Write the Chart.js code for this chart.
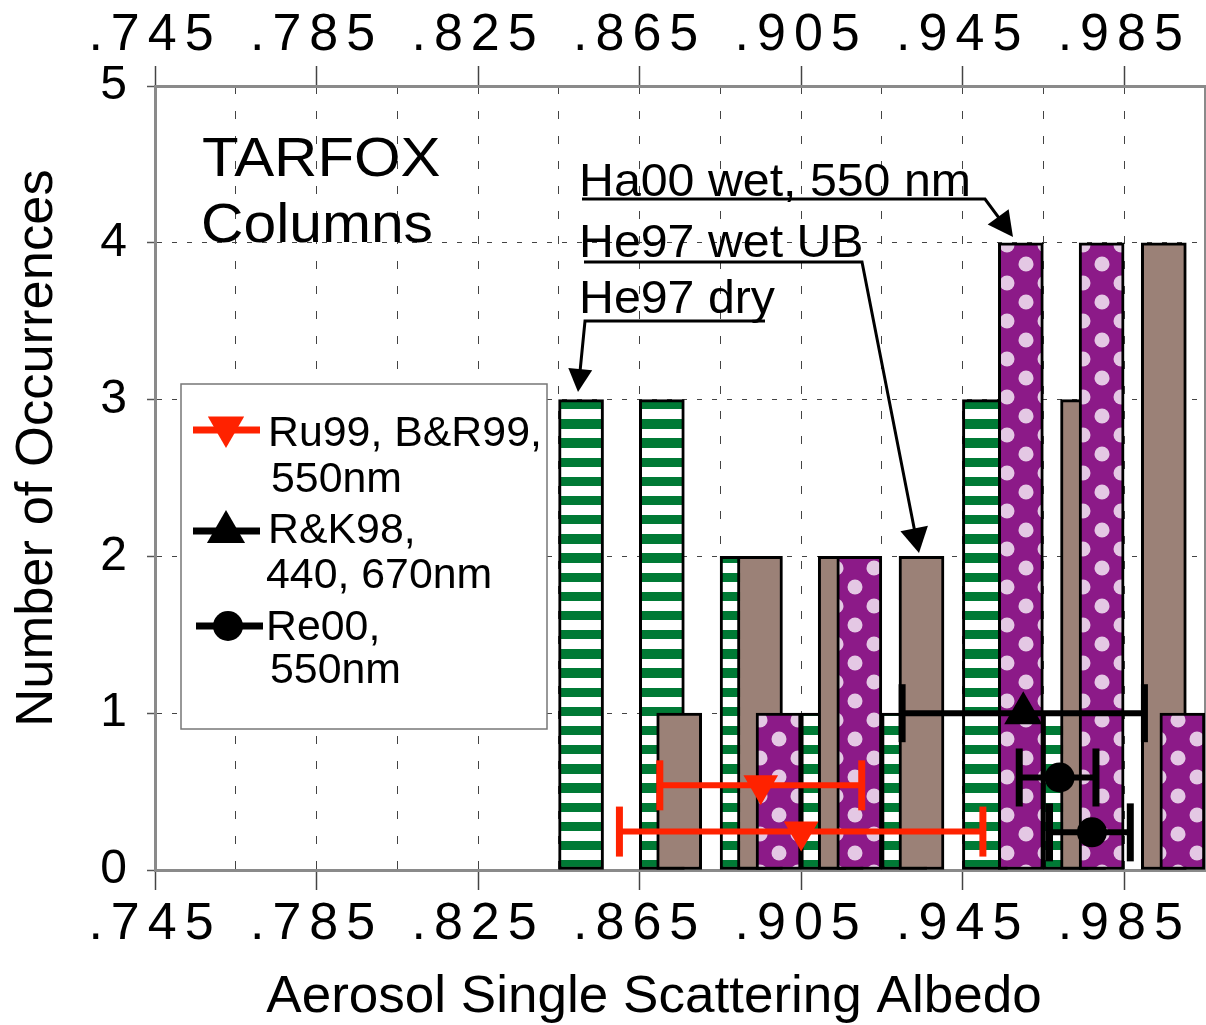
<!DOCTYPE html>
<html>
<head>
<meta charset="utf-8">
<script src="https://cdn.jsdelivr.net/npm/chart.js@4.4.1/dist/chart.umd.min.js"></script>
<style>
  html, body { margin: 0; padding: 0; background: #fff; }
  #wrap { width: 1206px; height: 1025px; }
</style>
</head>
<body>
<div id="wrap"><canvas id="albedoChart" width="1206" height="1025"></canvas></div>
<script>
// axis ticks
const xGridValues = [0.745, 0.765, 0.785, 0.805, 0.825, 0.845, 0.865, 0.885, 0.905, 0.925, 0.945, 0.965, 0.985, 1.005];
const xTickValues = [0.745, 0.785, 0.825, 0.865, 0.905, 0.945, 0.985];
const xTickLabels = [".745", ".785", ".825", ".865", ".905", ".945", ".985"];

// histogram columns (bin centre, count)
const dryX = [0.8505, 0.8705, 0.8905, 0.9105, 0.9305, 0.9505, 0.9705];
const dryY = [3, 3, 2, 1, 1, 3, 1];
const wetUbX = [0.8748, 0.8948, 0.9148, 0.9348, 0.9748, 0.9948];
const wetUbY = [1, 2, 2, 2, 3, 4];
const ha00X = [0.8994, 0.9194, 0.9594, 0.9794, 0.9994];
const ha00Y = [1, 2, 4, 4, 1];

// other retrievals with ranges
const ru99X = [0.895, 0.905];
const ru99Y = [0.54, 0.245];
const ru99Lo = [0.870, 0.860];
const ru99Hi = [0.920, 0.950];

const rk98X = [0.960];
const rk98Y = [1.0];
const rk98Lo = [0.930];
const rk98Hi = [0.990];

const re00X = [0.969, 0.977];
const re00Y = [0.59, 0.24];
const re00Lo = [0.959, 0.9665];
const re00Hi = [0.978, 0.9865];

const FONT = "'Liberation Sans', Arial, Helvetica, sans-serif";
const RED = "#ff2200";
Chart.defaults.font.family = FONT;

function makeStripes() {
  const c = document.createElement("canvas");
  c.width = 4;
  c.height = 115;
  const g = c.getContext("2d");
  g.fillStyle = "#ffffff";
  g.fillRect(0, 0, 4, 115);
  g.fillStyle = "#007a35";
  const step = 115 / 6;
  for (let y = (400 % 115) - 115; y < 115; y += step) {
    const a = Math.round(y), b = Math.round(y + 9.4);
    g.fillRect(0, a, 4, b - a);
  }
  return g.createPattern(c, "repeat");
}

function makeDots() {
  const c = document.createElement("canvas");
  c.width = 38;
  c.height = 38;
  const g = c.getContext("2d");
  g.fillStyle = "#8c1a88";
  g.fillRect(0, 0, 38, 38);
  g.fillStyle = "#e4c8e4";
  [[0, 36], [38, 36], [0, -2], [38, -2], [19, 17]].forEach(([x, y]) => {
    g.beginPath();
    g.arc(x, y, 7.5, 0, Math.PI * 2);
    g.fill();
  });
  return g.createPattern(c, "repeat");
}

function barSet(label, xs, ys, fill, order) {
  return {
    type: "bar",
    label: label,
    data: xs.map((x, i) => ({ x: x, y: ys[i] })),
    backgroundColor: fill,
    borderColor: "#000",
    borderWidth: 3,
    borderSkipped: false,
    barThickness: 45,
    grouped: false,
    order: order,
  };
}

// one line dataset per range, end caps drawn as rotated 'line' points
function rangeSets(lo, hi, ys, color, cap) {
  return lo.map((l, i) => ({
    type: "line",
    data: [{ x: l, y: ys[i] }, { x: hi[i], y: ys[i] }],
    borderColor: color,
    borderWidth: 6,
    pointStyle: "line",
    pointRotation: 90,
    pointRadius: cap,
    pointHoverRadius: cap,
    pointBorderWidth: 7,
    pointBorderColor: color,
    fill: false,
    order: 2,
  }));
}

function markerSet(xs, ys, color, style, rotation, radius) {
  return {
    type: "line",
    showLine: false,
    data: xs.map((x, i) => ({ x: x, y: ys[i] })),
    pointStyle: style,
    pointRotation: rotation,
    pointRadius: radius,
    pointHoverRadius: radius,
    pointBackgroundColor: color,
    pointBorderColor: color,
    pointBorderWidth: 0,
    order: 1,
  };
}

function spacedText(g, text, cx, y, spacing) {
  const chars = [...text];
  const widths = chars.map((ch) => g.measureText(ch).width);
  const total = widths.reduce((a, b) => a + b, 0) + spacing * (chars.length - 1);
  let x = cx - total / 2;
  g.textAlign = "left";
  chars.forEach((ch, i) => {
    g.fillText(ch, x, y);
    x += widths[i] + spacing;
  });
}

// text a little wider than the font gives, like the original figure
function wideText(g, text, x, y, sx) {
  g.save();
  g.translate(x, y);
  g.scale(sx, 1);
  g.fillText(text, 0, 0);
  g.restore();
}

function arrowLine(g, pts, len, half) {
  const n = pts.length;
  const [x1, y1] = pts[n - 2];
  const [x2, y2] = pts[n - 1];
  const a = Math.atan2(y2 - y1, x2 - x1);
  g.beginPath();
  g.moveTo(pts[0][0], pts[0][1]);
  for (let i = 1; i < n - 1; i++) g.lineTo(pts[i][0], pts[i][1]);
  g.lineTo(x2 - Math.cos(a) * len * 0.6, y2 - Math.sin(a) * len * 0.6);
  g.stroke();
  g.beginPath();
  g.moveTo(x2, y2);
  g.lineTo(x2 - len * Math.cos(a) + half * Math.sin(a), y2 - len * Math.sin(a) - half * Math.cos(a));
  g.lineTo(x2 - len * Math.cos(a) - half * Math.sin(a), y2 - len * Math.sin(a) + half * Math.cos(a));
  g.closePath();
  g.fill();
}

const decorPlugin = {
  id: "decor",
  afterDraw(chart) {
    const g = chart.ctx;
    const xs = chart.scales.x;
    g.save();
    g.fillStyle = "#000";
    g.textBaseline = "alphabetic";

    // x tick labels, top and bottom
    g.font = `52px ${FONT}`;
    xTickValues.forEach((v, i) => {
      const px = xs.getPixelForValue(v) - 4;
      spacedText(g, xTickLabels[i], px, 50, 8);
      spacedText(g, xTickLabels[i], px, 939, 8);
    });

    // axis titles
    g.textAlign = "center";
    g.font = `52px ${FONT}`;
    wideText(g, "Aerosol Single Scattering Albedo", 654, 1012, 1.02);
    g.save();
    g.translate(52, 448);
    g.rotate(-Math.PI / 2);
    wideText(g, "Number of Occurrences", 0, 0, 1.01);
    g.restore();

    // campaign label
    g.textAlign = "left";
    g.font = `56px ${FONT}`;
    wideText(g, "TARFOX", 202, 176, 1.07);
    wideText(g, "Columns", 201, 242, 1.05);

    // histogram annotations
    g.font = `46px ${FONT}`;
    wideText(g, "Ha00 wet, 550 nm", 579, 196, 1.05);
    wideText(g, "He97 wet UB", 579, 257, 1.05);
    wideText(g, "He97 dry", 579, 313, 1.05);
    g.strokeStyle = "#000";
    g.lineWidth = 3;
    g.lineJoin = "miter";
    arrowLine(g, [[582, 199], [985, 199], [1013, 237]], 25, 13);
    arrowLine(g, [[584, 262], [862, 262], [919, 553]], 25, 14);
    arrowLine(g, [[765, 321], [585, 321], [578, 392]], 23, 12);

    // legend box
    g.fillStyle = "#fff";
    g.fillRect(181, 384, 366, 345);
    g.strokeStyle = "#777";
    g.lineWidth = 1.5;
    g.strokeRect(181, 384, 366, 345);

    const entries = [
      { color: RED, style: "triangle", rot: 180, r: 21, lineY: 430, x0: 193, x1: 260, mx: 226, my: 427,
        text: [["Ru99, B&R99,", 268, 446], ["550nm", 271, 492]] },
      { color: "#000", style: "triangle", rot: 0, r: 22, lineY: 531, x0: 193, x1: 260, mx: 226, my: 532,
        text: [["R&K98,", 268, 543], ["440, 670nm", 266, 588]] },
      { color: "#000", style: "circle", rot: 0, r: 15, lineY: 626, x0: 196, x1: 263, mx: 228, my: 626,
        text: [["Re00,", 266, 640], ["550nm", 270, 683]] },
    ];
    g.font = `42px ${FONT}`;
    entries.forEach((e) => {
      g.strokeStyle = e.color;
      g.fillStyle = e.color;
      g.lineWidth = 7;
      g.beginPath();
      g.moveTo(e.x0, e.lineY);
      g.lineTo(e.x1, e.lineY);
      g.stroke();
      Chart.helpers.drawPoint(g, { pointStyle: e.style, rotation: e.rot, radius: e.r, borderWidth: 0 }, e.mx, e.my);
      g.fillStyle = "#000";
      e.text.forEach(([t, x, y]) => wideText(g, t, x, y, 1.02));
    });
    g.restore();
  },
};

const stripes = makeStripes();
const dots = makeDots();

const datasets = [
  barSet("He97 dry", dryX, dryY, stripes, 5),
  barSet("He97 wet UB", wetUbX, wetUbY, "#9b8177", 4),
  barSet("Ha00 wet, 550 nm", ha00X, ha00Y, dots, 3),
  ...rangeSets(ru99Lo, ru99Hi, ru99Y, RED, 25),
  ...rangeSets(rk98Lo, rk98Hi, rk98Y, "#000", 29),
  ...rangeSets(re00Lo, re00Hi, re00Y, "#000", 29),
  markerSet(ru99X, ru99Y, RED, "triangle", 180, 20),
  markerSet(rk98X, rk98Y, "#000", "triangle", 0, 22),
  markerSet(re00X, re00Y, "#000", "circle", 0, 15),
];

const tickColor = (c) => (xTickValues.some((v) => Math.abs(v - c.tick.value) < 1e-6) ? "#444" : "rgba(0,0,0,0)");
const setGridTicks = (s) => {
  s.ticks = xGridValues.map((v) => ({ value: v }));
};

const ctx = document.getElementById("albedoChart").getContext("2d");

const albedoChart = new Chart(ctx, {
  type: "bar",
  data: { datasets: datasets },
  options: {
    responsive: false,
    animation: false,
    events: [],
    layout: { padding: 0, autoPadding: false },
    plugins: {
      legend: { display: false },
      title: { display: false },
      tooltip: { enabled: false },
    },
    scales: {
      x: {
        type: "linear",
        position: "bottom",
        min: 0.745,
        max: 1.005,
        offset: false,
        afterBuildTicks: setGridTicks,
        afterFit: (s) => { s.height = 155; },
        ticks: { display: false },
        grid: { offset: false, color: "#444", lineWidth: 1, tickLength: 20, tickWidth: 1.5, tickColor: tickColor },
        border: { color: "#8a8a8a", width: 3, dash: [8, 17] },
      },
      x2: {
        type: "linear",
        position: "top",
        min: 0.745,
        max: 1.005,
        offset: false,
        afterBuildTicks: setGridTicks,
        afterFit: (s) => { s.height = 86; },
        ticks: { display: false },
        grid: { offset: false, drawOnChartArea: false, tickLength: 20, tickWidth: 1.5, tickColor: tickColor },
        border: { color: "#8a8a8a", width: 3 },
      },
      y: {
        type: "linear",
        position: "left",
        min: 0,
        max: 5,
        afterFit: (s) => { s.width = 155; },
        ticks: { stepSize: 1, padding: 20, color: "#000", font: { size: 48, family: FONT } },
        grid: { color: "#444", lineWidth: 1, tickLength: 8, tickWidth: 1.5, tickColor: "#555" },
        border: { color: "#8a8a8a", width: 3, dash: [5, 10] },
      },
      y2: {
        type: "linear",
        position: "right",
        min: 0,
        max: 5,
        afterFit: (s) => { s.width = 1; },
        ticks: { display: false },
        grid: { display: false },
        border: { color: "#8a8a8a", width: 2 },
      },
    },
  },
  plugins: [decorPlugin],
});
</script>
</body>
</html>
